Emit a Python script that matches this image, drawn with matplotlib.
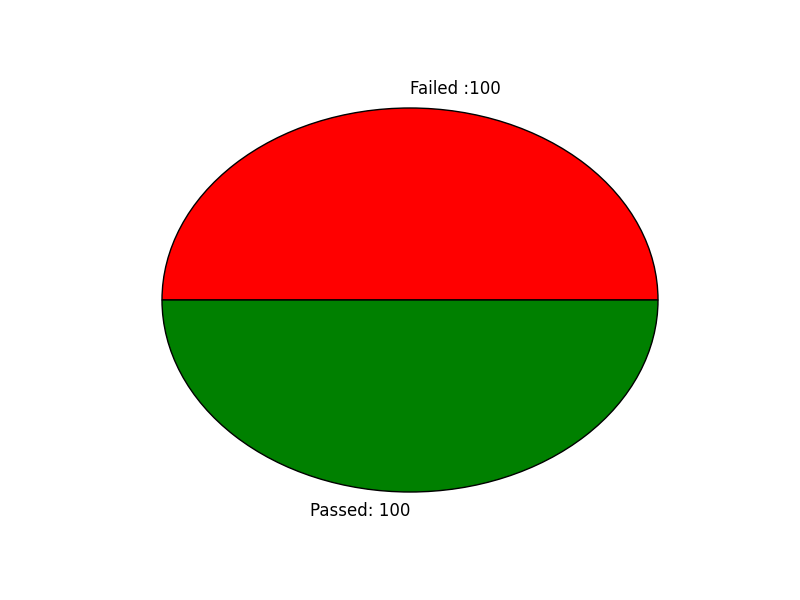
import matplotlib
matplotlib.use("Agg")
import matplotlib.pyplot as plt

# test results
labels = ["Failed :100", "Passed: 100"]
counts = [100, 100]
colours = ["red", "green"]
label_align = ["left", "right"]

fig = plt.figure(figsize=(8, 6), dpi=100)
ax = fig.add_axes([0.125, 0.1, 0.775, 0.8])
wedges, texts = ax.pie(counts, labels=labels, colors=colours, startangle=0,
                       wedgeprops=dict(edgecolor="black", linewidth=1),
                       textprops=dict(fontsize=12))
for t, ha in zip(texts, label_align):
    t.set_horizontalalignment(ha)
ax.set_aspect("auto")
ax.set_xlim(-1.25, 1.25)
ax.set_ylim(-1.25, 1.25)
ax.set_frame_on(False)
ax.set_xticks([])
ax.set_yticks([])

plt.savefig("out.png", dpi=100)
